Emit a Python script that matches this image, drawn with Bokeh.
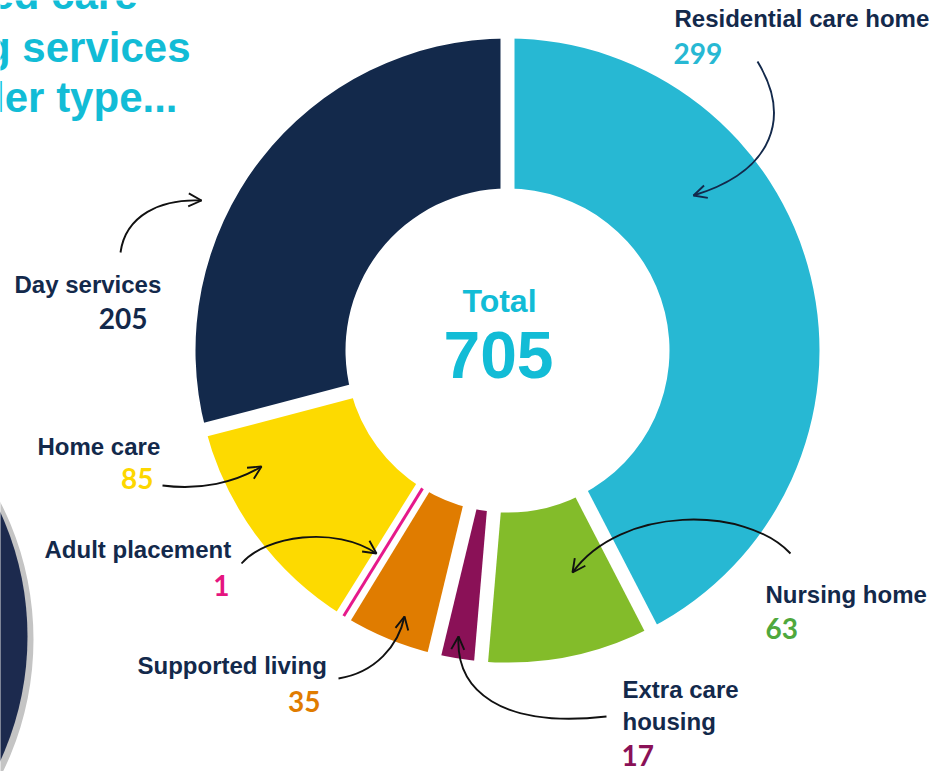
import numpy as np
from bokeh.plotting import figure
from bokeh.models import Range1d, Arrow, OpenHead, ColumnDataSource
from bokeh.core.properties import value
from bokeh.embed import file_html
from bokeh.resources import INLINE

# ---------------- data ----------------
categories = ["Residential care home", "Nursing home", "Extra care housing",
              "Supported living", "Adult placement", "Home care", "Day services"]
counts = [299, 63, 17, 35, 1, 85, 205]
slice_colors = ["#27B8D3", "#83BC2A", "#8A1157", "#E07C00", "#E6198B", "#FDDA00", "#13294B"]
number_colors = ["#27B8D3", "#4FA83D", "#8A1157", "#E07C00", "#E5157F", "#FDD700", "#13294B"]
total_label = "Total"
title_lines = ["ed care", "g services", "ler type..."]

# ---------------- layout (pixel coords of the picture) ----------------
W, H = 946, 771
CX, CY = 507, 350
R_IN, R_OUT = 162, 312
NAVY = "#13294B"
CYAN = "#12BCD6"
BASE_K = 0.37   # baseline compensation (fraction of font size)
LABEL_SIZE = 24
NUM_SIZE = 28

def Y(py):
    return H - py

def TY(py, size):
    # y for a text whose baseline should sit at pixel row py
    return H - (py - BASE_K * size)

label_layout = {
    "Residential care home": dict(lines=["Residential care home"], lx=674, ly=[27], la="left", nx=673, ny=63, na="left"),
    "Nursing home": dict(lines=["Nursing home"], lx=765, ly=[603], la="left", nx=765, ny=638, na="left"),
    "Extra care housing": dict(lines=["Extra care", "housing"], lx=622, ly=[698, 730], la="left", nx=621, ny=765, na="left"),
    "Supported living": dict(lines=["Supported living"], lx=137, ly=[674], la="left", nx=320, ny=711, na="right"),
    "Adult placement": dict(lines=["Adult placement"], lx=44, ly=[558], la="left", nx=229, ny=595, na="right"),
    "Home care": dict(lines=["Home care"], lx=37, ly=[455], la="left", nx=153, ny=488, na="right"),
    "Day services": dict(lines=["Day services"], lx=14, ly=[293], la="left", nx=147, ny=328, na="right"),
}

# bezier arrows: start, ctrl1, ctrl2, end (pixels)
arrow_layout = {
    "Residential care home": ((757, 61), (790, 115), (775, 170), (693, 195), NAVY),
    "Nursing home": ((790, 553), (745, 505), (620, 505), (572, 572), "#111111"),
    "Extra care housing": ((606, 716), (500, 728), (455, 690), (458, 636), "#111111"),
    "Supported living": ((338, 678), (375, 672), (398, 645), (404, 616), "#111111"),
    "Adult placement": ((241, 563), (265, 535), (335, 525), (376, 553), "#111111"),
    "Home care": ((162, 485), (200, 490), (235, 482), (261, 466), "#111111"),
    "Day services": ((120, 252), (125, 215), (160, 198), (201, 200), "#111111"),
}

p = figure(width=W, height=H, output_backend="svg", toolbar_location=None,
           x_range=Range1d(0, W), y_range=Range1d(0, H), min_border=0,
           match_aspect=False)
p.axis.visible = False
p.grid.visible = False
p.outline_line_color = None
p.background_fill_color = "white"
p.border_fill_color = "white"

# decorative partial circle at bottom-left
p.circle(x=[-268], y=[Y(639)], radius=301, fill_color="#C4C4C4", line_color=None)
p.circle(x=[-271], y=[Y(636)], radius=298, fill_color="#1C2A4E", line_color=None)

# title fragments (clipped at page edge)
title_right = [137, 190, 177]
title_base = [10, 63, 113]
for t, rx, by in zip(title_lines, title_right, title_base):
    p.text(x=[rx], y=[TY(by, 42)], text=[t], text_align="right", text_baseline="alphabetic",
           text_font=value("Liberation Sans"), text_font_style="bold",
           text_font_size="42px", text_color=CYAN)

# donut
total = sum(counts)
cum = np.concatenate([[0], np.cumsum(counts)]) / total * 2 * np.pi
start = np.pi / 2 - cum[1:]
end = np.pi / 2 - cum[:-1]
src = ColumnDataSource(dict(cat=categories, start=start, end=end, color=slice_colors))
p.annular_wedge(x=CX, y=Y(CY), inner_radius=R_IN, outer_radius=R_OUT,
                start_angle="start", end_angle="end", fill_color="color",
                line_color=None, source=src)

# white separators at every boundary
bnd = np.pi / 2 - cum[:-1]
p.segment(x0=CX + (R_IN - 4) * np.cos(bnd), y0=Y(CY) + (R_IN - 4) * np.sin(bnd),
          x1=CX + (R_OUT + 4) * np.cos(bnd), y1=Y(CY) + (R_OUT + 4) * np.sin(bnd),
          line_color="white", line_width=14)

# very small slices drawn as a thin radial line
for c, s, e, col in zip(counts, start, end, slice_colors):
    if c / total < 0.01:
        m = (s + e) / 2
        p.segment(x0=[CX + R_IN * np.cos(m)], y0=[Y(CY) + R_IN * np.sin(m)],
                  x1=[CX + R_OUT * np.cos(m)], y1=[Y(CY) + R_OUT * np.sin(m)],
                  line_color=col, line_width=3)

# center text
p.text(x=[499], y=[TY(312, 32)], text=[total_label], text_align="center", text_baseline="alphabetic",
       text_font=value("Liberation Sans"), text_font_style="bold", text_font_size="32px",
       text_color=CYAN)
p.text(x=[498], y=[TY(379, 66)], text=[str(total)], text_align="center", text_baseline="alphabetic",
       text_font=value("Liberation Sans"), text_font_style="bold", text_font_size="66px",
       text_color=CYAN)

# labels, numbers and arrows
for cat, n, ncol in zip(categories, counts, number_colors):
    L = label_layout[cat]
    for line, by in zip(L["lines"], L["ly"]):
        p.text(x=[L["lx"]], y=[TY(by, LABEL_SIZE)], text=[line], text_align=L["la"],
               text_baseline="alphabetic", text_font=value("Liberation Sans"),
               text_font_style="bold", text_font_size=f"{LABEL_SIZE}px", text_color=NAVY)
    p.text(x=[L["nx"]], y=[TY(L["ny"], NUM_SIZE)], text=[str(n)], text_align=L["na"],
           text_baseline="alphabetic", text_font=value("Lato"), text_font_style="bold",
           text_font_size=f"{NUM_SIZE}px", text_color=ncol)

    (sx, sy), (c1x, c1y), (c2x, c2y), (ex, ey), acol = arrow_layout[cat]
    p.bezier(x0=[sx], y0=[Y(sy)], cx0=[c1x], cy0=[Y(c1y)], cx1=[c2x], cy1=[Y(c2y)],
             x1=[ex], y1=[Y(ey)], line_color=acol, line_width=1.9)
    d = np.array([ex - c2x, ey - c2y], dtype=float)
    d /= np.hypot(*d)
    p.add_layout(Arrow(end=OpenHead(size=13, line_color=acol, line_width=1.9),
                       x_start=ex - 6 * d[0], y_start=Y(ey - 6 * d[1]),
                       x_end=ex, y_end=Y(ey), line_alpha=0))

open("out.html", "w").write(file_html(p, INLINE))
